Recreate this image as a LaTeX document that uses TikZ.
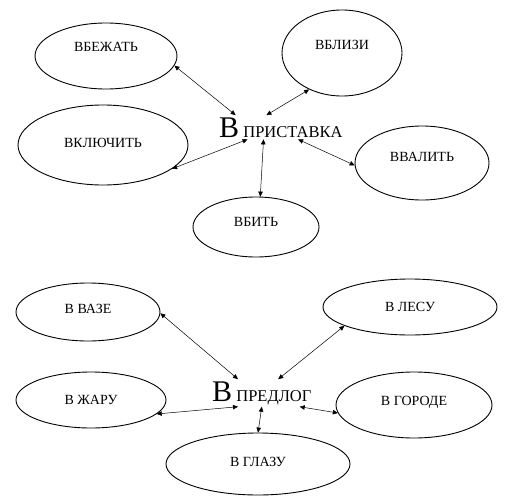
\documentclass[tikz,border=0pt]{standalone}
\usepackage{fontspec}
\setmainfont{Liberation Serif}
\usetikzlibrary{shapes.geometric, arrows.meta}

\begin{document}
\begin{tikzpicture}[
  x=1pt, y=-1pt,
  word/.style={ellipse, draw=black, line width=0.9pt, inner sep=0pt,
               font=\fontsize{14}{14}\selectfont},
  lift/.style={text depth=#1},
  hub/.style={anchor=base west, inner sep=2pt, font=\fontsize{16.5}{16.5}\selectfont},
  link/.style={{Triangle[length=5pt,width=4.5pt]}-{Triangle[length=5pt,width=4.5pt]}, line width=0.5pt},
]
\useasboundingbox (0,0) rectangle (510,500);

% Prefix group
\node[hub] (pri) at (217,137) {{\fontsize{30}{30}\selectfont В} ПРИСТАВКА};
\node[word, lift=18, minimum width=142, minimum height=66] (vbezhat) at (106,56) {ВБЕЖАТЬ};
\node[word, lift=16, minimum width=120, minimum height=86] (vblizi) at (342,53) {ВБЛИЗИ};
\node[word, lift=4, minimum width=170, minimum height=80] (vkljuchit) at (103,145) {ВКЛЮЧИТЬ};
\node[word, lift=12, minimum width=134, minimum height=74] (vvalit) at (422,163) {ВВАЛИТЬ};
\node[word, lift=10, minimum width=126, minimum height=60] (vbit) at (256,227) {ВБИТЬ};

\draw[link] (vbezhat.-8) -- (pri.165);
\draw[link] (vblizi.228) -- (pri.140);
\draw[link] (vkljuchit.-19) -- (pri.200);
\draw[link] (vbit.82) -- (pri.215);
\draw[link] (vvalit.182) -- (pri.-35);

% Preposition group
\node[hub] (pre) at (210,401) {{\fontsize{30}{30}\selectfont В} ПРЕДЛОГ};
\node[word, lift=6, minimum width=144, minimum height=58] (vvaze) at (88,312) {В ВАЗЕ};
\node[word, minimum width=174, minimum height=56] (vlesu) at (410,307) {В ЛЕСУ};
\node[word, minimum width=150, minimum height=56] (vzharu) at (91,400) {В ЖАРУ};
\node[word, lift=8, minimum width=156, minimum height=66] (vgorode) at (414,405) {В ГОРОДЕ};
\node[word, lift=4, minimum width=184, minimum height=62] (vglazu) at (258,464) {В ГЛАЗУ};

\draw[link] (vvaze.-1) -- (pre.150);
\draw[link] (vlesu.196) -- (pre.40);
\draw[link] (vzharu.-12) -- (pre.210);
\draw[link] (vglazu.north) -- (pre.-90);
\draw[link] (vgorode.186) -- (pre.-20);

\end{tikzpicture}
\end{document}
